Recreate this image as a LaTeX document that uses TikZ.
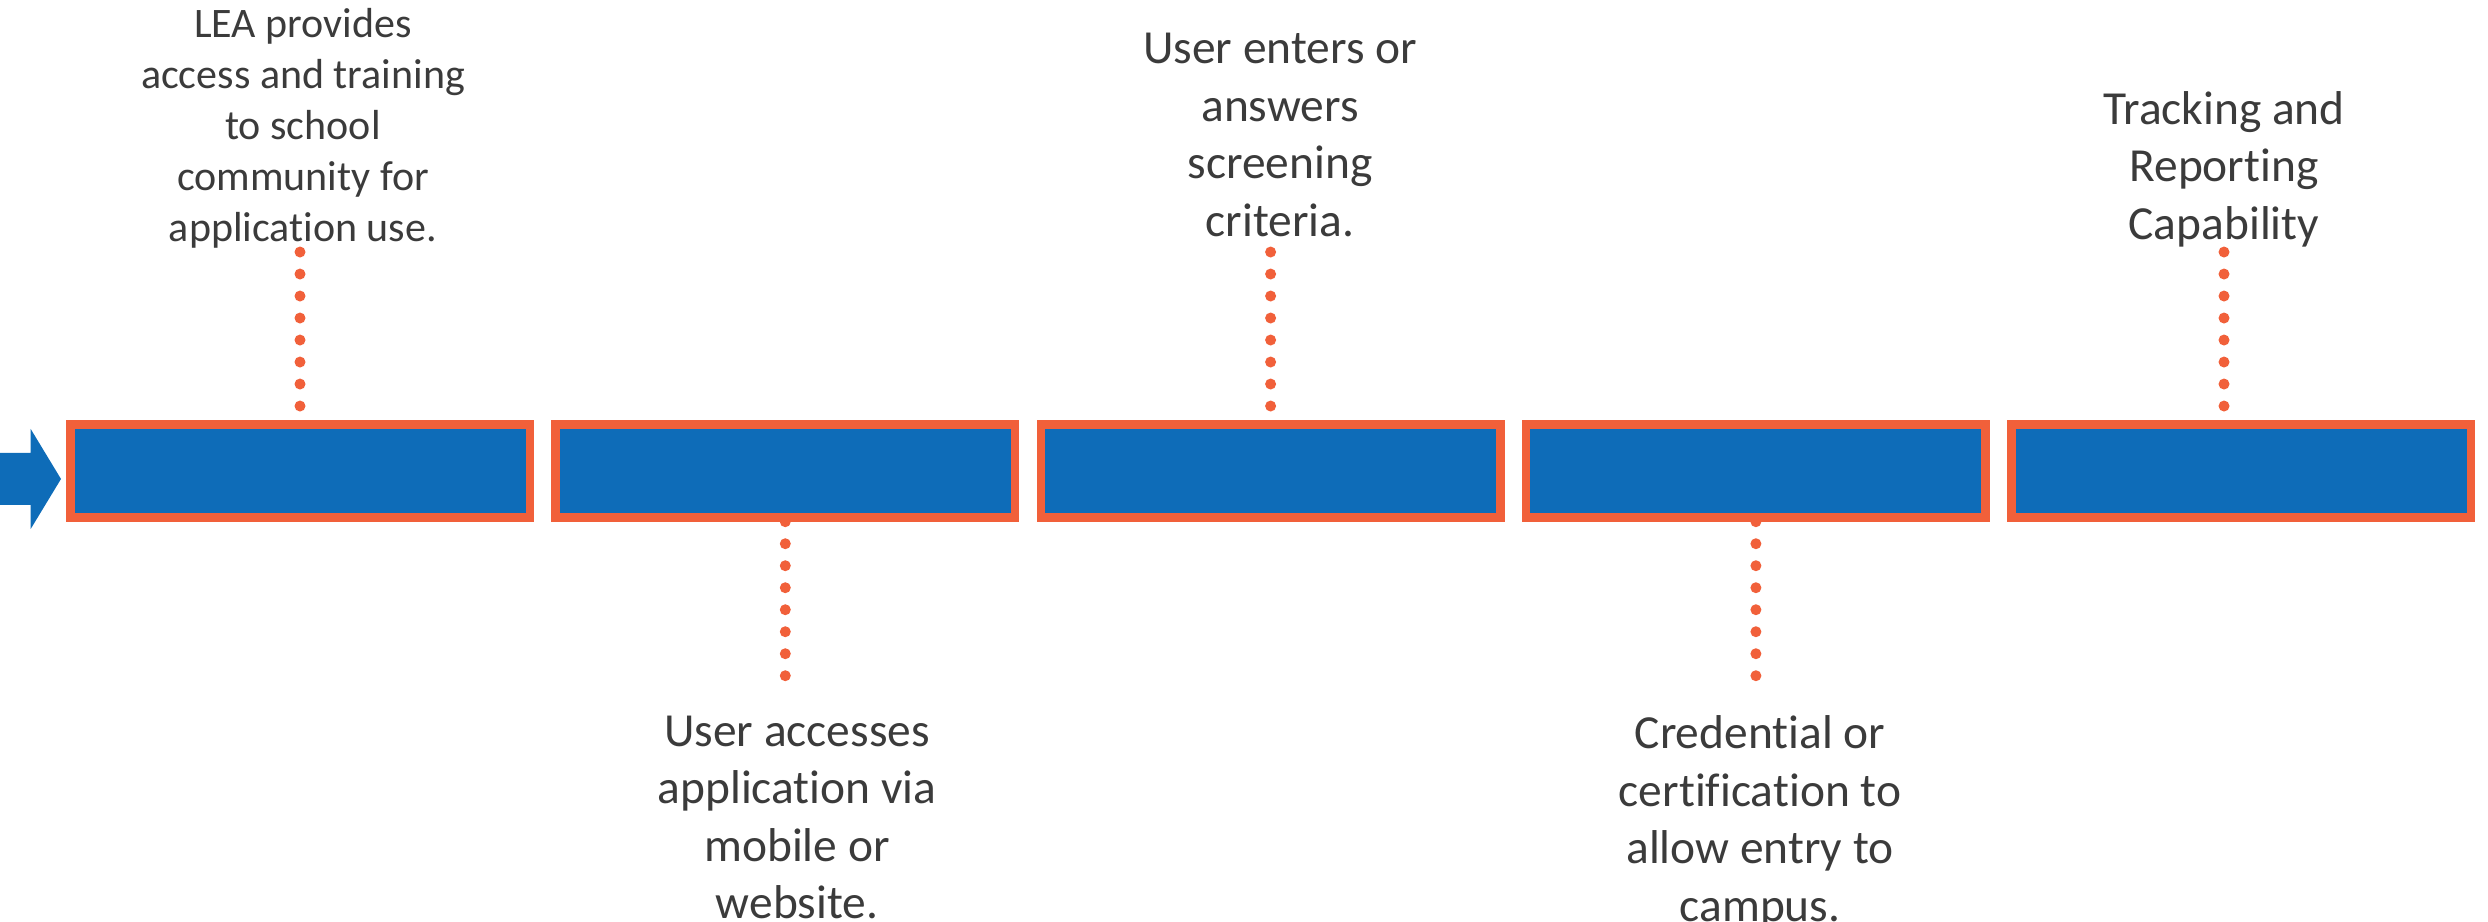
\documentclass[tikz,border=0pt]{standalone}
\usepackage{fontspec}
\setmainfont{Carlito}[Ligatures=NoCommon]
\definecolor{barblue}{RGB}{14, 108, 184}
\definecolor{barorange}{RGB}{241, 96, 58}
\definecolor{textgray}{RGB}{59, 59, 59}
\tikzset{
    stepbox/.style={draw=barorange, fill=barblue, line width=0.85mm,
        minimum width=4.595cm, minimum height=0.932cm, inner sep=0pt},
    steptext/.style={text=textgray, align=center, inner sep=0pt,
        font=\fontsize{13.5}{16.37}\selectfont,
        execute at begin node=\strut, execute at end node=\strut},
    smalltext/.style={steptext, font=\fontsize{11.95}{14.5}\selectfont},
    dotline/.style={draw=barorange, line width=1.1mm, line cap=round,
        dash pattern=on 0pt off 2.2mm},
}

\begin{document}
\begin{tikzpicture}
    \useasboundingbox (0, 0) rectangle (24.88, 9.22);
    % incoming arrow
    \fill[barblue] (0, 4.69) -- (0.307, 4.69) -- (0.307, 4.93) -- (0.61, 4.43)
        -- (0.307, 3.93) -- (0.307, 4.17) -- (0, 4.17) -- cycle;
    % the five steps
    \node[stepbox] (s1) at (3.00, 4.511) {};
    \node[stepbox] (s2) at (7.853, 4.511) {};
    \node[stepbox] (s3) at (12.706, 4.511) {};
    \node[stepbox] (s4) at (17.559, 4.511) {};
    \node[stepbox] (s5) at (22.412, 4.511) {};
    % labels
    \node[smalltext, anchor=south] (provide) at (3.03, 6.647)
        {LEA provides\\access and training\\to school\\community for\\application use.};
    \node[steptext, anchor=north] (access) at (7.97, 2.07)
        {User accesses\\application via\\mobile or\\website.};
    \node[steptext, anchor=south] (screen) at (12.80, 6.6775)
        {User enters or\\answers\\screening\\criteria.};
    \node[steptext, anchor=north] (credential) at (17.60, 2.07)
        {Credential or\\certification to\\allow entry to\\campus.};
    \node[steptext, anchor=south] (tracking) at (22.24, 6.6475)
        {Tracking and\\Reporting\\Capability};
    % dotted leaders
    \draw[dotline, shorten <=1.4mm, shorten >=-0.7mm] (s1.north) -- (s1.north |- provide.south);
    \draw[dotline, shorten >=2mm] (s2.south) -- (s2.south |- access.north);
    \draw[dotline, shorten <=1.4mm, shorten >=-0.7mm] (s3.north) -- (s3.north |- screen.south);
    \draw[dotline, shorten >=2mm] (s4.south) -- (s4.south |- credential.north);
    \draw[dotline, shorten <=1.4mm, shorten >=-0.7mm] (tracking.south |- s5.north) -- (tracking.south);
\end{tikzpicture}
\end{document}
